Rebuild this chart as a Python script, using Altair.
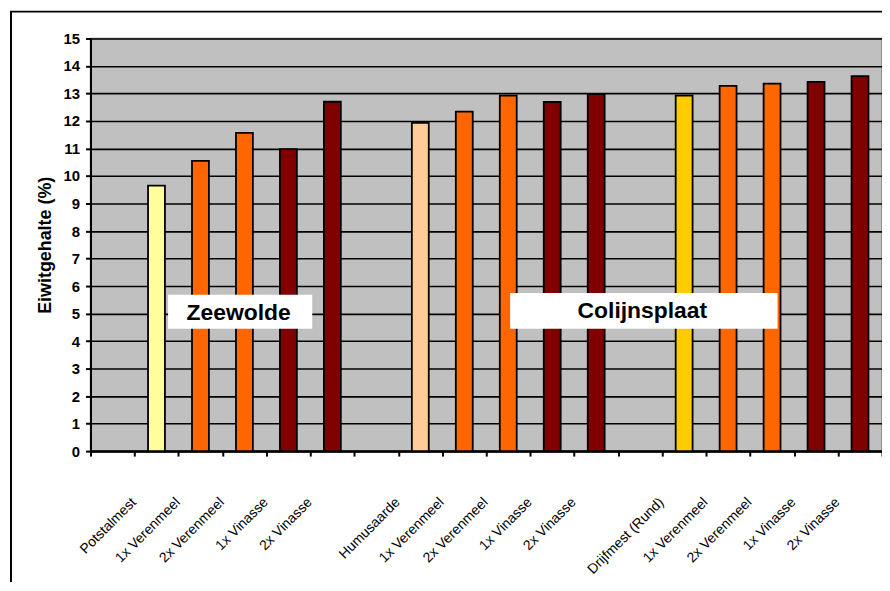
import json
import altair as alt
import pandas as pd

# ---- data ----
slot_keys = ["e0", "z1", "z2", "z3", "z4", "z5",
             "e1", "c1", "c2", "c3", "c4", "c5",
             "e2", "d1", "d2", "d3", "d4", "d5"]
slot_labels = ["", "Potstalmest", "1x Verenmeel", "2x Verenmeel", "1x Vinasse", "2x Vinasse",
               "", "Humusaarde", "1x Verenmeel", "2x Verenmeel", "1x Vinasse", "2x Vinasse",
               "", "Drijfmest (Rund)", "1x Verenmeel", "2x Verenmeel", "1x Vinasse", "2x Vinasse"]

bar_keys = ["z1", "z2", "z3", "z4", "z5",
            "c1", "c2", "c3", "c4", "c5",
            "d1", "d2", "d3", "d4", "d5"]
bar_values = [9.65, 10.55, 11.57, 10.98, 12.70,
              11.93, 12.34, 12.92, 12.69, 12.98,
              12.92, 13.28, 13.36, 13.42, 13.63]
bar_colors = ["#FFFF99", "#FF6600", "#FF6600", "#800000", "#800000",
              "#FFCC99", "#FF6600", "#FF6600", "#800000", "#800000",
              "#FFCC00", "#FF6600", "#FF6600", "#800000", "#800000"]

y_ticks = list(range(0, 16))
annotations = ["Zeewolde", "Colijnsplaat"]

df = pd.DataFrame({"key": bar_keys, "value": bar_values, "color": bar_colors})
one = pd.DataFrame({"a": [0]})

label_expr = "%s[indexof(%s, datum.value)]" % (json.dumps(slot_labels), json.dumps(slot_keys))

FONT = "Liberation Sans"

y_scale = alt.Scale(domain=[0, 15], nice=False)
y_axis = alt.Axis(
    title="Eiwitgehalte (%)", values=y_ticks, labelFontSize=15, labelFontWeight="bold",
    labelFont=FONT, labelColor="black", labelPadding=6, labelOverlap=False,
    tickSize=5, tickColor="black",
    tickWidth=2, domainColor="black", domainWidth=2, gridColor="black", gridWidth=1.6,
    titleFont=FONT, titleFontSize=18, titleFontWeight="bold", titleColor="black",
    titlePadding=9,
)

x_enc = alt.X(
    "key:N",
    scale=alt.Scale(domain=slot_keys, paddingInner=0, paddingOuter=0),
    axis=alt.Axis(
        title=None, labelAngle=-45, labelAlign="right", labelBaseline="middle",
        labelPadding=44, labelOffset=-23, labelFontSize=14, labelFont=FONT,
        labelColor="black", labelExpr=label_expr, labelOverlap=False,
        tickBand="extent", ticks=True, tickColor="black", tickSize=5, tickWidth=2,
        domainColor="black", domainWidth=2.5, grid=False,
    ),
)


def ydat(v):
    return alt.YDatum(v, type="quantitative", scale=y_scale, axis=y_axis)


bars = alt.Chart(df).mark_bar(width=17, stroke="black", strokeWidth=1.8).encode(
    x=x_enc, y=alt.Y("value:Q", scale=y_scale, axis=y_axis),
    color=alt.Color("color:N", scale=None)
)

box_z = alt.Chart(one).mark_rect(fill="white").encode(
    x=alt.value(78), x2=alt.value(223), y=ydat(4.45), y2=alt.datum(5.68)
)
box_c = alt.Chart(one).mark_rect(fill="white").encode(
    x=alt.value(422), x2=alt.value(691), y=ydat(4.45), y2=alt.datum(5.75)
)
txt_z = alt.Chart(one).mark_text(font=FONT, fontSize=23, fontWeight="bold", color="black",
                                 align="center", baseline="middle").encode(
    x=alt.value(149), y=ydat(5.03), text=alt.value(annotations[0])
)
txt_c = alt.Chart(one).mark_text(font=FONT, fontSize=23, fontWeight="bold", color="black",
                                 align="center", baseline="middle").encode(
    x=alt.value(555), y=ydat(5.1), text=alt.value(annotations[1])
)
border = alt.Chart(one).mark_rect(fill="transparent", stroke="black", strokeWidth=2).encode(
    x=alt.value(-80), x2=alt.value(830), y=alt.value(-27), y2=alt.value(600)
)

chart = alt.layer(bars, box_z, box_c, txt_z, txt_c, border).properties(
    width=796, height=415,
    autosize=alt.AutoSizeParams(type="none"),
    padding={"left": 83, "top": 29, "right": 0, "bottom": 130},
).configure_view(fill="#C0C0C0", stroke="#808080", strokeWidth=1.5)

chart.save("out.html", embed_options={"renderer": "svg", "actions": False})
